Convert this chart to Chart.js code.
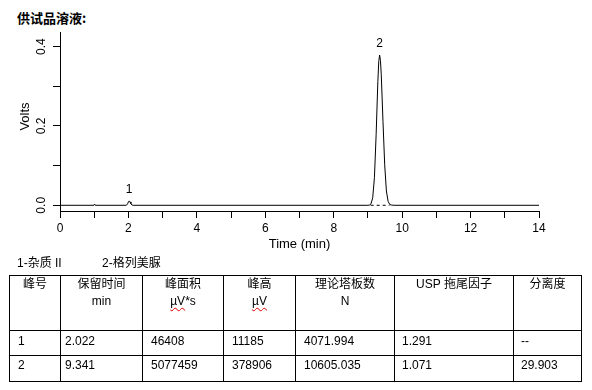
<!DOCTYPE html>
<html>
<head>
<meta charset="utf-8">
<script src="https://cdn.jsdelivr.net/npm/chart.js@4.4.1/dist/chart.umd.min.js"></script>
<style>
  html, body { margin: 0; padding: 0; background: #fff; }
  body { width: 592px; height: 390px; position: relative; overflow: hidden;
         font-family: "Liberation Sans", Arial, "Noto Sans CJK SC", sans-serif; color: #000; }
  #title { position: absolute; left: 17px; top: 9px; font: bold 13px/17px "Noto Sans CJK SC", sans-serif; }
  #chart { position: absolute; left: 0; top: 0; }
  .txt { position: absolute; font-size: 12px; line-height: 17px; white-space: nowrap; }
  .hl { position: absolute; height: 1px; background: #000; }
  .vl { position: absolute; width: 1px; background: #000; }
  .wavy { text-decoration: underline wavy #e00000; text-decoration-thickness: 1px; text-underline-offset: 2px; }
</style>
</head>
<body>
<div id="title">供试品溶液:</div>
<canvas id="chart" width="592" height="260"></canvas>
<div id="legendA" class="txt" style="left:17px;top:255px;">1-杂质 II</div>
<div id="legendB" class="txt" style="left:102px;top:255px;">2-格列美脲</div>
<div id="table"></div>
<script>
// ---- chromatogram trace ----
const traceTime = [0, 0.99, 1.01, 1.03, 1.94, 1.975, 2.0, 2.022, 2.047, 2.072, 2.1, 2.14,
  9.0, 9.05, 9.09, 9.14, 9.19, 9.24, 9.29, 9.316, 9.341, 9.366, 9.39, 9.44, 9.49, 9.54, 9.59, 9.64, 9.7, 9.76, 14];
const traceVolts = [0, 0, 0.003, 0, 0, 0.0037, 0.0087, 0.011, 0.0085, 0.004, 0.0008, 0,
  0, 0.0007, 0.0035, 0.019, 0.070, 0.178, 0.312, 0.362, 0.379, 0.365, 0.329, 0.212, 0.102, 0.036, 0.0098, 0.0019, 0.0005, 0, 0];
// dashed baseline under peak 2
const baseTime = [9.08, 9.63];
const baseVolts = [0, 0];

// axis ticks
const xLabelTicks = [0, 2, 4, 6, 8, 10, 12, 14];
const yLabelTicks = [0.0, 0.2, 0.4];

// ---- result table ----
const peakNo = ['1', '2'];
const retention = ['2.022', '9.341'];
const peakArea = ['46408', '5077459'];
const peakHeight = ['11185', '378906'];
const plates = ['4071.994', '10605.035'];
const tailing = ['1.291', '1.071'];
const resolution = ['--', '29.903'];
const headerTop = ['峰号', '保留时间', '峰面积', '峰高', '理论塔板数', 'USP 拖尾因子', '分离度'];
const headerUnit = ['', 'min', 'µV*s', 'µV', 'N', '', ''];

// ---- chart ----
const FONT = '"Liberation Sans", Arial, sans-serif';
const pts = (xs, ys) => xs.map((t, i) => ({ x: t, y: ys[i] }));

const overlay = {
  id: 'overlay',
  afterDraw(chart) {
    const { ctx, scales: { x, y } } = chart;
    ctx.save();
    ctx.fillStyle = '#000';
    ctx.textAlign = 'center';
    ctx.textBaseline = 'middle';
    ctx.font = '12px ' + FONT;
    // peak numbers
    peakNo.forEach((n, i) => {
      const px = x.getPixelForValue(parseFloat(retention[i]));
      const py = y.getPixelForValue(parseFloat(peakHeight[i]) / 1e6);
      ctx.fillText(n, px, py - 11);
    });
    // rotated y tick labels
    yLabelTicks.forEach(v => {
      ctx.save();
      ctx.translate(41.5, y.getPixelForValue(v));
      ctx.rotate(-Math.PI / 2);
      ctx.fillText(v.toFixed(1), 0, 0);
      ctx.restore();
    });
    // y axis title
    ctx.font = '13px ' + FONT;
    ctx.save();
    ctx.translate(25, 116.5);
    ctx.rotate(-Math.PI / 2);
    ctx.fillText('Volts', 0, 0);
    ctx.restore();
    ctx.restore();
  }
};

new Chart(document.getElementById('chart'), {
  type: 'line',
  data: {
    datasets: [
      { data: pts(traceTime, traceVolts), borderColor: '#000', borderWidth: 1, pointRadius: 0, tension: 0, fill: false },
      { data: pts(baseTime, baseVolts), borderColor: '#000', borderWidth: 1, borderDash: [3, 3], pointRadius: 0, fill: false }
    ]
  },
  options: {
    responsive: false,
    animation: false,
    devicePixelRatio: 1,
    layout: { padding: { left: 0, right: 53, top: 32, bottom: 0 } },
    plugins: { legend: { display: false }, tooltip: { enabled: false }, title: { display: false } },
    scales: {
      x: {
        type: 'linear', min: 0, max: 14,
        afterFit(s) { s.height = 49; },
        ticks: {
          stepSize: 1, autoSkip: false, maxRotation: 0, minRotation: 0, padding: 3,
          color: '#000', font: { family: FONT, size: 12 },
          callback: v => xLabelTicks.includes(v) ? String(v) : ''
        },
        grid: { drawOnChartArea: false, drawTicks: true, tickLength: 7, color: '#000', tickColor: '#000', tickWidth: 1 },
        border: { display: true, color: '#000', width: 1 },
        title: { display: true, text: 'Time (min)', color: '#000', font: { family: FONT, size: 13 }, padding: { top: 0, bottom: 8 } }
      },
      y: {
        type: 'linear', min: -0.0144, max: 0.437,
        afterFit(s) { s.width = 60; },
        ticks: { stepSize: 0.1, includeBounds: false, display: false },
        grid: { drawOnChartArea: false, drawTicks: true, tickLength: 7, color: '#000', tickColor: '#000', tickWidth: 1 },
        border: { display: true, color: '#000', width: 1 }
      }
    }
  },
  plugins: [overlay]
});

// ---- table drawing (HTML) ----
const colX = [9, 60, 142, 223, 295, 394, 513, 581];
const rowY = [275, 330, 355, 381];
const padL = [9, 5, 9, 9, 9, 8, 8];
const tbl = document.getElementById('table');
function add(cls, style, html) {
  const d = document.createElement('div');
  d.className = cls; d.setAttribute('style', style);
  if (html !== undefined) d.innerHTML = html;
  tbl.appendChild(d);
}
rowY.forEach(yy => add('hl', `left:${colX[0]}px;top:${yy}px;width:${colX[colX.length-1]-colX[0]+1}px;`));
colX.forEach(xx => add('vl', `left:${xx}px;top:${rowY[0]}px;height:${rowY[rowY.length-1]-rowY[0]+1}px;`));
headerTop.forEach((h, i) => {
  const w = colX[i+1] - colX[i];
  let unit = headerUnit[i];
  if (unit.startsWith('µV')) unit = '<span class="wavy">µV</span>' + unit.slice(2);
  add('txt', `left:${colX[i]+1}px;top:276px;width:${w-1}px;text-align:center;`, h + (unit ? '<br>' + unit : ''));
});
const rows = [peakNo, retention, peakArea, peakHeight, plates, tailing, resolution];
[333, 357].forEach((ty, r) => {
  rows.forEach((col, c) => add('txt', `left:${colX[c]+padL[c]}px;top:${ty}px;`, col[r]));
});
</script>
</body>
</html>
